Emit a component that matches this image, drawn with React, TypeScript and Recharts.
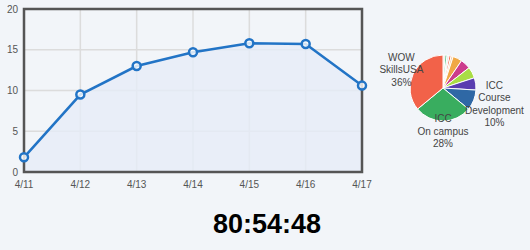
import React from "react";
import {
  AreaChart,
  Area,
  XAxis,
  YAxis,
  CartesianGrid,
  ReferenceArea,
  PieChart,
  Pie,
  Cell,
} from "recharts";

const days = ["4/11", "4/12", "4/13", "4/14", "4/15", "4/16", "4/17"];
const hours = [1.8, 9.5, 13.0, 14.7, 15.8, 15.7, 10.6];
const yTicks = [0, 5, 10, 15, 20];

const sliceNames = [
  "Other A",
  "Other B",
  "Other C",
  "Other D",
  "Other E",
  "Other F",
  "Other G",
  "Other H",
  "Other I",
  "ICC Course Development",
  "ICC On campus",
  "WOW SkillsUSA",
];
const sliceShares = [1, 1, 1, 1, 1, 4.5, 5, 5.5, 6, 10, 28, 36];
const sliceColors = [
  "#f2c4c0",
  "#4cc07a",
  "#e8e8e8",
  "#f26a4c",
  "#f6c9a0",
  "#f0a845",
  "#cc3d8c",
  "#a9dd45",
  "#5a3db0",
  "#2f68a5",
  "#39ad5f",
  "#f26249",
];
// label lines per slice; empty = no label
const sliceLabels: string[][] = [
  [], [], [], [], [], [], [], [], [],
  ["ICC", "Course", "Development", "10%"],
  ["ICC", "On campus", "28%"],
  ["WOW", "SkillsUSA", "36%"],
];

const lineData = days.map((d, i) => ({ day: d, hours: hours[i] }));
const pieData = sliceNames.map((n, i) => ({ name: n, value: sliceShares[i] }));

const font = "Arial, 'Liberation Sans', sans-serif";
const tickStyle = { fontSize: 10, fill: "#555", fontFamily: font };

const RAD = Math.PI / 180;

function PieLabel(props: any) {
  const { cx, cy, midAngle, outerRadius, index } = props;
  const lines = sliceLabels[index];
  if (!lines || lines.length === 0) return null;
  const cos = Math.cos(-midAngle * RAD);
  const sin = Math.sin(-midAngle * RAD);
  // wide labels get pushed further out so they clear the pie
  const widest = Math.max(...lines.map((l) => l.length)) * 5.3;
  const push = Math.max(0, widest - 49);
  const x = cx + cos * (outerRadius + 13 + push);
  const y = cy + sin * (outerRadius + 10);
  const lh = 12.5;
  const top = y - ((lines.length - 1) * lh) / 2 + 3.5;
  return (
    <text x={x} y={top} textAnchor="middle" fontSize={10} fill="#444" fontFamily={font}>
      {lines.map((l, i) => (
        <tspan key={i} x={x} y={top + i * lh}>
          {l}
        </tspan>
      ))}
    </text>
  );
}

export default function App() {
  return (
    <div
      style={{
        position: "fixed",
        left: 0,
        top: 0,
        width: 530,
        height: 250,
        background: "#f2f5f9",
        overflow: "hidden",
      }}
    >
      <div style={{ position: "absolute", left: 0, top: 0 }}>
        <AreaChart
          width={375}
          height={195}
          data={lineData}
          margin={{ top: 9, right: 13, left: 0, bottom: 0 }}
        >
          <CartesianGrid stroke="#dcdcdc" strokeWidth={1.5} />
          <XAxis
            dataKey="day"
            axisLine={false}
            tickLine={false}
            height={23}
            tick={tickStyle}
            tickMargin={3}
            interval={0}
          />
          <YAxis
            domain={[0, 20]}
            ticks={yTicks}
            axisLine={false}
            tickLine={false}
            width={24}
            tick={tickStyle}
            tickMargin={0}
          />
          <Area
            type="linear"
            dataKey="hours"
            stroke="#2274c6"
            strokeWidth={2.5}
            fill="#e6ecf7"
            fillOpacity={0.8}
            dot={{ r: 4, fill: "#fff", stroke: "#2274c6", strokeWidth: 2.5 }}
            activeDot={false}
            isAnimationActive={false}
          />
          <ReferenceArea
            x1="4/11"
            x2="4/17"
            y1={0}
            y2={20}
            fill="none"
            stroke="#555"
            strokeWidth={2.5}
            ifOverflow="visible"
          />
        </AreaChart>
      </div>
      <div style={{ position: "absolute", left: 370, top: 0 }}>
        <PieChart width={160} height={180}>
          <Pie
            data={pieData}
            dataKey="value"
            cx={68}
            cy={83}
            outerRadius={33}
            startAngle={90}
            endAngle={-270}
            stroke="#fff"
            strokeWidth={1}
            label={PieLabel}
            labelLine={false}
            isAnimationActive={false}
          >
            {pieData.map((d, i) => (
              <Cell key={d.name} fill={sliceColors[i]} />
            ))}
          </Pie>
        </PieChart>
      </div>
      <div
        style={{
          position: "absolute",
          left: 0,
          width: 534,
          top: 209,
          textAlign: "center",
          fontFamily: font,
          fontWeight: "bold",
          fontSize: 27,
          color: "#000",
        }}
      >
        80:54:48
      </div>
    </div>
  );
}
